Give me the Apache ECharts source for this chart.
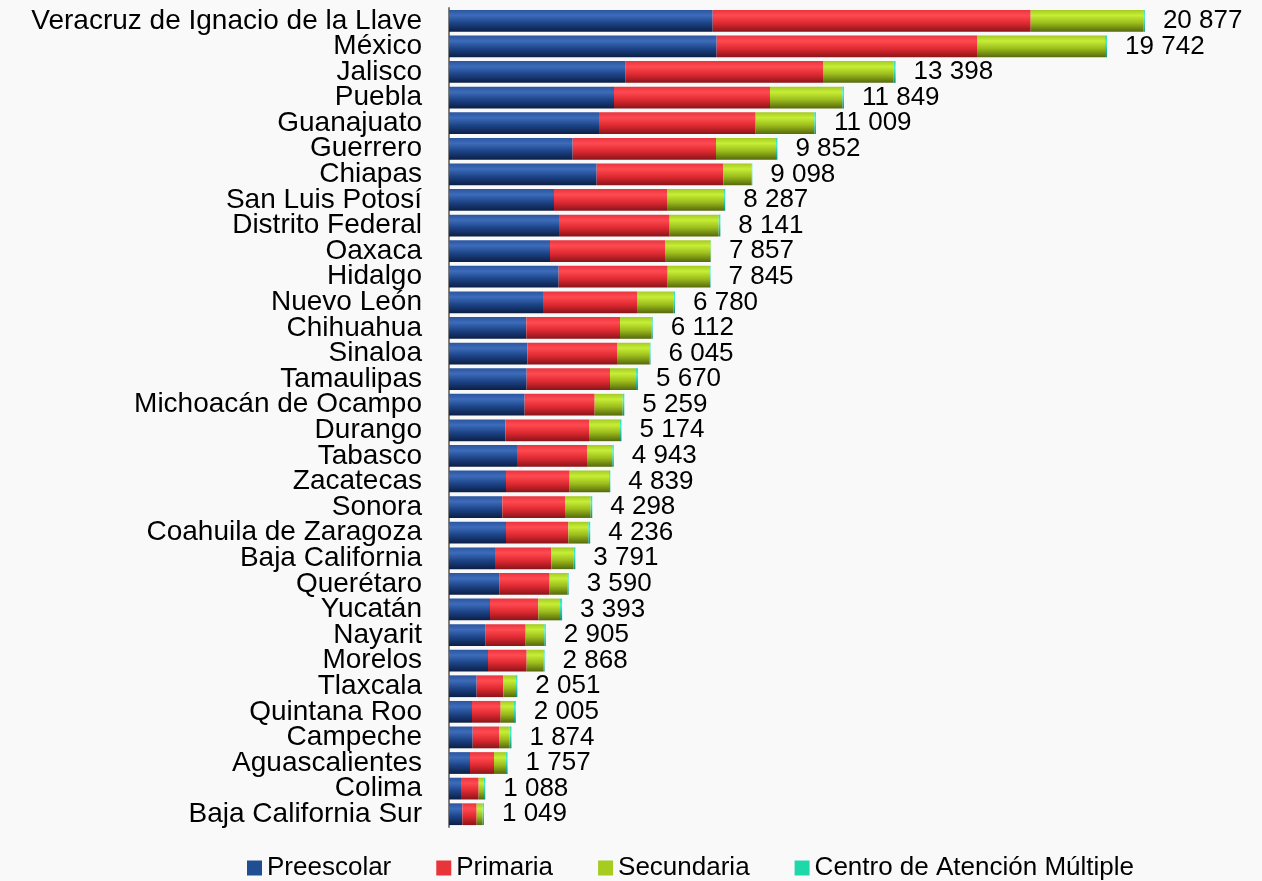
<!DOCTYPE html>
<html>
<head>
<meta charset="utf-8">
<script src="https://cdn.jsdelivr.net/npm/echarts@6/dist/echarts.min.js"></script>
<style>
html,body{margin:0;padding:0;background:#f9f9f9;}
#chart{width:1262px;height:881px;}
</style>
</head>
<body>
<div id="chart"></div>
<script>
const categories = ["Veracruz de Ignacio de la Llave","México","Jalisco","Puebla","Guanajuato","Guerrero","Chiapas","San Luis Potosí","Distrito Federal","Oaxaca","Hidalgo","Nuevo León","Chihuahua","Sinaloa","Tamaulipas","Michoacán de Ocampo","Durango","Tabasco","Zacatecas","Sonora","Coahuila de Zaragoza","Baja California","Querétaro","Yucatán","Nayarit","Morelos","Tlaxcala","Quintana Roo","Campeche","Aguascalientes","Colima","Baja California Sur"];
const seriesNames = ["Preescolar","Primaria","Secundaria","Centro de Atención Múltiple"];
const preescolar = [7911,8030,5300,4950,4500,3710,4430,3150,3300,3030,3290,2820,2320,2350,2330,2270,1690,2040,1710,1600,1710,1380,1520,1230,1100,1170,830,690,710,630,360,400];
const primaria   = [9540,7810,5920,4680,4700,4300,3800,3390,3320,3450,3270,2820,2810,2690,2500,2100,2510,2100,1910,1880,1870,1690,1500,1450,1200,1160,800,860,790,720,530,430];
const secundaria = [3380,3840,2110,2170,1760,1800,850,1710,1470,1370,1270,1090,940,970,780,840,930,760,1180,770,600,660,530,650,560,500,380,400,320,360,160,180];
const cam        = [46,62,68,49,49,42,18,37,51,7,15,50,42,35,60,49,44,43,39,48,56,61,40,63,45,38,41,55,54,47,38,39];
const totals     = [20877,19742,13398,11849,11009,9852,9098,8287,8141,7857,7845,6780,6112,6045,5670,5259,5174,4943,4839,4298,4236,3791,3590,3393,2905,2868,2051,2005,1874,1757,1088,1049];

function grad(stops){
  return new echarts.graphic.LinearGradient(0,0,0,1, stops.map(c=>({offset:c[0], color:c[1]})));
}
const fills = [
  grad([[0,'#2a55a0'],[0.25,'#3d6cba'],[0.6,'#1d4488'],[1,'#0b1f45']]),
  grad([[0,'#e8343e'],[0.25,'#ff4a52'],[0.6,'#e02a32'],[1,'#8a1419']]),
  grad([[0,'#a6ca22'],[0.25,'#c6ee36'],[0.6,'#9cbc1c'],[1,'#55690c']]),
  grad([[0,'#22dcb6'],[0.3,'#48f2cc'],[1,'#0f8f70']])
];
const legendColors = ['#1f4e92','#e8353a','#a5cc1f','#1fd8aa'];
const fmt = v => String(v).replace(/\B(?=(\d{3})+(?!\d))/g,' ');
const values = [preescolar, primaria, secundaria, cam];
const FONT = '"Liberation Sans", Arial, sans-serif';

const chart = echarts.init(document.getElementById('chart'), null, {renderer:'canvas'});
const series = values.map((arr, i) => ({
  name: seriesNames[i],
  type: 'bar',
  stack: 'total',
  barCategoryGap: '15%',
  data: arr,
  itemStyle: { color: fills[i] },
  emphasis: { disabled: true },
  label: i === 3 ? {
    show: true,
    position: 'right',
    distance: 18,
    formatter: p => fmt(totals[p.dataIndex]),
    color: '#000',
    fontFamily: FONT,
    fontSize: 26
  } : { show: false }
}));

chart.setOption({
  backgroundColor: '#f9f9f9',
  animation: false,
  color: legendColors,
  grid: { left: 449, width: 800, top: 8, height: 819, containLabel: false },
  xAxis: {
    type: 'value', min: 0, max: 24000,
    show: false,
    splitLine: { show: false }
  },
  yAxis: {
    type: 'category',
    data: categories,
    inverse: true,
    axisLine: { show: true, lineStyle: { color: '#7f7f7f', width: 2 } },
    axisTick: { show: false },
    axisLabel: {
      margin: 27,
      color: '#000',
      fontFamily: FONT,
      fontSize: 28,
      interval: 0
    }
  },
  legend: {
    data: seriesNames.map((n, i) => ({ name: n, itemStyle: { color: legendColors[i] } })),
    left: 247,
    top: 855,
    padding: 0,
    itemWidth: 15,
    itemHeight: 15,
    itemGap: 45,
    icon: 'rect',
    textStyle: { color: '#000', fontFamily: FONT, fontSize: 26 }
  },
  series: series
});
</script>
</body>
</html>
